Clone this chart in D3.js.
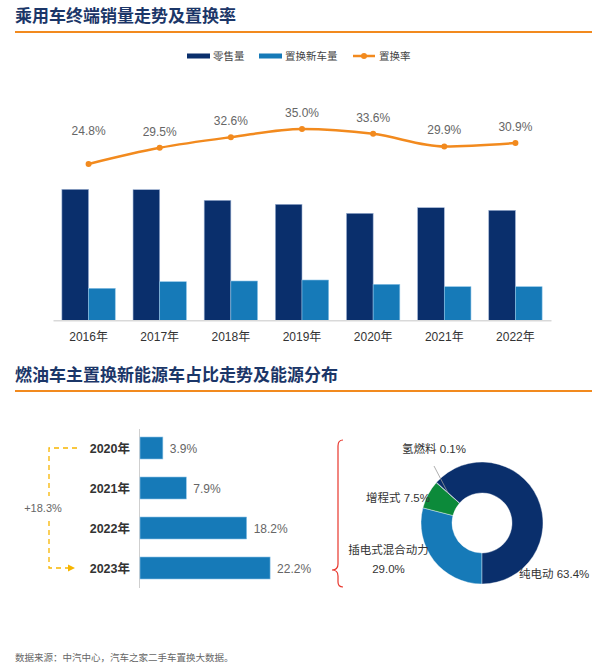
<!DOCTYPE html>
<html>
<head>
<meta charset="utf-8">
<script src="https://cdn.jsdelivr.net/npm/d3@7"></script>
<style>
body { margin: 0; background: #fff; }
text { font-family: "Liberation Sans", "Noto Sans CJK SC", sans-serif; }
.cn { font-family: "Noto Sans CJK SC", sans-serif; }
</style>
</head>
<body>
<div id="chart"></div>
<script>
// data
const years = ['2016年', '2017年', '2018年', '2019年', '2020年', '2021年', '2022年'];
const retail = [2620, 2612, 2400, 2320, 2140, 2252, 2200];
const replaced = [640, 772, 786, 806, 720, 672, 672];
const rate = [24.8, 29.5, 32.6, 35.0, 33.6, 29.9, 30.9];
const legendNames = ['零售量', '置换新车量', '置换率'];

const nevYears = ['2020年', '2021年', '2022年', '2023年'];
const nevShare = [3.9, 7.9, 18.2, 22.2];
const nevGrowth = '+18.3%';

const energyTypes = ['插电式混合动力', '增程式', '氢燃料', '纯电动'];
const energyShare = [29.0, 7.5, 0.1, 63.4];

const navy = '#0a2f6c', blue = '#167ab8', orange = '#f28a1e', green = '#0c8a3a';

const width = 600, height = 670;
const svg = d3.select('#chart').append('svg')
    .attr('width', width)
    .attr('height', height);

// section headers
const headers = [
    {text: '乘用车终端销量走势及置换率', y: 22, line: 32},
    {text: '燃油车主置换新能源车占比走势及能源分布', y: 381, line: 391}
];
headers.forEach(h => {
    svg.append('text')
        .attr('class', 'cn')
        .attr('x', 15)
        .attr('y', h.y)
        .attr('fill', '#1b3668')
        .style('font-size', '17px')
        .style('font-weight', 'bold')
        .text(h.text);
    svg.append('line')
        .attr('x1', 15).attr('x2', 592)
        .attr('y1', h.line).attr('y2', h.line)
        .attr('stroke', orange)
        .attr('stroke-width', 2);
});

// legend
const legend = svg.append('g').attr('transform', 'translate(187,56)');
const legX = [0, 72, 166];
legendNames.forEach((name, i) => {
    const g = legend.append('g').attr('transform', `translate(${legX[i]},0)`);
    if (i < 2) {
        g.append('rect')
            .attr('x', 0).attr('y', -2.5)
            .attr('width', 23).attr('height', 5)
            .attr('fill', i === 0 ? navy : blue);
    } else {
        g.append('line')
            .attr('x1', 0).attr('x2', 22)
            .attr('stroke', orange).attr('stroke-width', 2.5);
        g.append('circle').attr('cx', 11).attr('r', 3).attr('fill', orange);
    }
    g.append('text')
        .attr('class', 'cn')
        .attr('x', 26)
        .attr('y', 4)
        .attr('fill', '#444')
        .style('font-size', '10.5px')
        .text(name);
});

// ---- bar + line chart
const x0 = d3.scaleBand()
    .domain(years)
    .range([53, 551])
    .paddingInner(0.25)
    .paddingOuter(0.125);
const x1 = d3.scaleBand()
    .domain(['retail', 'replaced'])
    .range([0, x0.bandwidth()]);
const yBar = d3.scaleLinear().domain([0, 3000]).range([320.3, 170.3]);
const yRate = d3.scaleLinear().domain([0, 40]).range([249, 111.8]);

const groups = svg.selectAll('.year')
    .data(years)
    .enter()
    .append('g')
    .attr('transform', d => `translate(${x0(d)},0)`);

groups.append('rect')
    .attr('x', x1('retail'))
    .attr('y', (d, i) => yBar(retail[i]))
    .attr('width', x1.bandwidth())
    .attr('height', (d, i) => yBar(0) - yBar(retail[i]))
    .attr('fill', navy)
    .attr('stroke', '#9fb3d4')
    .attr('stroke-width', 0.6);

groups.append('rect')
    .attr('x', x1('replaced'))
    .attr('y', (d, i) => yBar(replaced[i]))
    .attr('width', x1.bandwidth())
    .attr('height', (d, i) => yBar(0) - yBar(replaced[i]))
    .attr('fill', blue)
    .attr('stroke', '#8cc3e6')
    .attr('stroke-width', 0.6);

const xAxis = svg.append('g')
    .attr('transform', `translate(0,${yBar(0)})`)
    .call(d3.axisBottom(x0).tickSize(0).tickPadding(12));
xAxis.select('.domain').attr('stroke', '#d9d9d9').attr('stroke-width', 1.5);
xAxis.selectAll('text')
    .attr('fill', '#333')
    .style('font-size', '12px')
    .style('font-family', '"Liberation Sans", "Noto Sans CJK SC", sans-serif');

const cx = d => x0(d) + x0.bandwidth() / 2;
const line = d3.line()
    .x(d => cx(d))
    .y((d, i) => yRate(rate[i]))
    .curve(d3.curveMonotoneX);

svg.append('path')
    .datum(years)
    .attr('d', line)
    .attr('fill', 'none')
    .attr('stroke', orange)
    .attr('stroke-width', 2.5);

svg.selectAll('.dot')
    .data(years)
    .enter()
    .append('circle')
    .attr('cx', d => cx(d))
    .attr('cy', (d, i) => yRate(rate[i]))
    .attr('r', 3)
    .attr('fill', orange);

svg.selectAll('.rate-label')
    .data(years)
    .enter()
    .append('text')
    .attr('x', d => cx(d))
    .attr('y', (d, i) => yRate(rate[i]) - (i === 0 ? 29 : 12))
    .attr('text-anchor', 'middle')
    .attr('fill', '#666')
    .style('font-size', '12px')
    .text((d, i) => rate[i].toFixed(1) + '%');

// ---- horizontal bars
const yH = d3.scaleBand()
    .domain(nevYears)
    .range([428, 588])
    .paddingInner(0.45)
    .paddingOuter(0.225);
const xH = d3.scaleLinear().domain([0, 25]).range([140, 286.5]);

svg.append('line')
    .attr('x1', 139.5).attr('x2', 139.5)
    .attr('y1', 429).attr('y2', 588)
    .attr('stroke', '#cfcfcf');

svg.selectAll('.hbar')
    .data(nevYears)
    .enter()
    .append('rect')
    .attr('x', xH(0))
    .attr('y', d => yH(d))
    .attr('width', (d, i) => xH(nevShare[i]) - xH(0))
    .attr('height', yH.bandwidth())
    .attr('fill', blue)
    .attr('stroke', '#8cc3e6')
    .attr('stroke-width', 0.6);

svg.selectAll('.hyear')
    .data(nevYears)
    .enter()
    .append('text')
    .attr('x', 130)
    .attr('y', d => yH(d) + yH.bandwidth() / 2 + 4.5)
    .attr('text-anchor', 'end')
    .attr('fill', '#333')
    .style('font-size', '12.5px')
    .style('font-weight', 'bold')
    .text(d => d);

svg.selectAll('.hval')
    .data(nevYears)
    .enter()
    .append('text')
    .attr('x', (d, i) => xH(nevShare[i]) + 7)
    .attr('y', d => yH(d) + yH.bandwidth() / 2 + 4.5)
    .attr('fill', '#666')
    .style('font-size', '12px')
    .text((d, i) => nevShare[i].toFixed(1) + '%');

// dashed growth bracket
const yTop = yH(nevYears[0]) + yH.bandwidth() / 2;
const yBot = yH(nevYears[3]) + yH.bandwidth() / 2;
const yMid = (yTop + yBot) / 2;
const yellow = '#f7b500';
svg.append('path')
    .attr('d', `M77,${yTop} H49 V${yMid - 12} M49,${yMid + 13} V${yBot} H68`)
    .attr('fill', 'none')
    .attr('stroke', yellow)
    .attr('stroke-width', 1.3)
    .attr('stroke-dasharray', '5,4');
svg.append('path')
    .attr('d', `M68,${yBot - 3.5} L75,${yBot} L68,${yBot + 3.5} Z`)
    .attr('fill', yellow);
svg.append('text')
    .attr('x', 43)
    .attr('y', yMid + 4)
    .attr('text-anchor', 'middle')
    .attr('fill', '#666')
    .style('font-size', '11px')
    .text(nevGrowth);

// red brace
const bx = 338, bt = 440, bb = 587, tip = yBot + 2;
svg.append('path')
    .attr('d', `M${bx + 5},${bt} Q${bx},${bt} ${bx},${bt + 6} L${bx},${tip - 6} Q${bx},${tip} ${bx - 6},${tip} ` +
        `Q${bx},${tip} ${bx},${tip + 6} L${bx},${bb - 5} Q${bx},${bb} ${bx + 5},${bb}`)
    .attr('fill', 'none')
    .attr('stroke', '#e8362c')
    .attr('stroke-width', 1.2);

// ---- donut
const dcx = 482, dcy = 523, rIn = 30, rOut = 61;
const pie = d3.pie()
    .sort(null)
    .value(d => d)
    .startAngle(Math.PI)
    .endAngle(3 * Math.PI);
const arc = d3.arc().innerRadius(rIn).outerRadius(rOut);
const sliceColors = [blue, green, '#163a78', navy];
const arcs = pie(energyShare);

const donut = svg.append('g').attr('transform', `translate(${dcx},${dcy})`);
donut.selectAll('path')
    .data(arcs)
    .enter()
    .append('path')
    .attr('d', arc)
    .attr('fill', (d, i) => sliceColors[i])
    .attr('stroke', '#fff')
    .attr('stroke-width', 0.4);

// leader for the tiny hydrogen slice
const hc = arc.centroid(arcs[2]);
donut.append('line')
    .attr('x1', -48).attr('y1', -57)
    .attr('x2', hc[0]).attr('y2', hc[1])
    .attr('stroke', '#999')
    .attr('stroke-width', 0.8);

const labelPos = [
    {x: -93.5, y: 31, anchor: 'middle', lines: [energyTypes[0], energyShare[0].toFixed(1) + '%']},
    {x: -52, y: -21, anchor: 'end', lines: [energyTypes[1] + ' ' + energyShare[1].toFixed(1) + '%']},
    {x: -48, y: -70, anchor: 'middle', lines: [energyTypes[2] + ' ' + energyShare[2].toFixed(1) + '%']},
    {x: 37, y: 55, anchor: 'start', lines: [energyTypes[3] + ' ' + energyShare[3].toFixed(1) + '%']}
];
labelPos.forEach(l => {
    const t = donut.append('text')
        .attr('x', l.x)
        .attr('y', l.y)
        .attr('text-anchor', l.anchor)
        .attr('fill', '#333')
        .style('font-size', '11.5px');
    l.lines.forEach((s, j) => {
        t.append('tspan').attr('x', l.x).attr('dy', j === 0 ? 0 : 18.5).text(s);
    });
});

// footer
svg.append('text')
    .attr('class', 'cn')
    .attr('x', 15)
    .attr('y', 661)
    .attr('fill', '#666')
    .style('font-size', '9.5px')
    .text('数据来源：中汽中心，汽车之家二手车置换大数据。');
</script>
</body>
</html>
